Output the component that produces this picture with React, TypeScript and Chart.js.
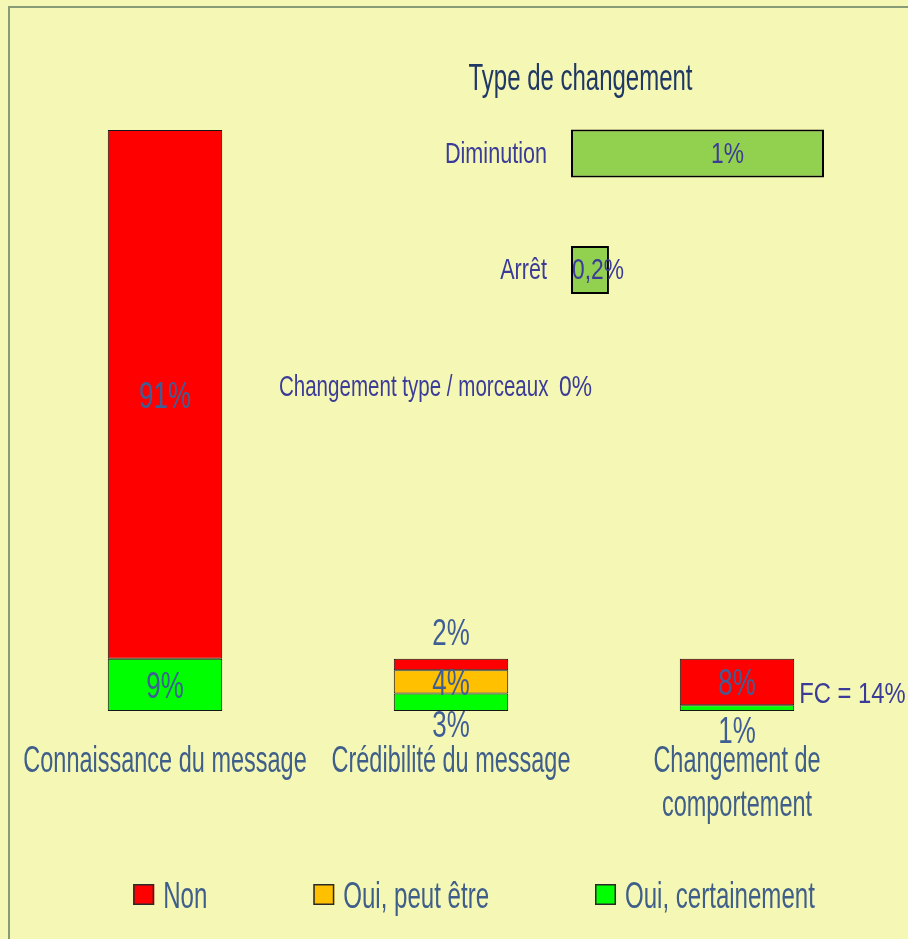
import React, { useEffect, useRef } from 'react';
import { Chart, registerables } from 'chart.js';

Chart.register(...registerables);

// ---------- data ----------
const categories: (string | string[])[] = [
  'Connaissance du message',
  'Crédibilité du message',
  ['Changement de', 'comportement'],
];
const seriesNames = ['Non', 'Oui, peut être', 'Oui, certainement'];
const nonValues: (number | null)[] = [91, 2, 8];
const peutEtreValues: (number | null)[] = [null, 4, null];
const certainementValues: (number | null)[] = [9, 3, 1];
const fcNote = 'FC = 14%';

const insetTitle = 'Type de changement';
const changeTypes = ['Diminution', 'Arrêt', 'Changement type / morceaux'];
const changeValues = [1, 0.15, 0];
const changeLabels = ['1%', '0,2%', '0%'];

// ---------- styles ----------
const BG = '#F5F7B5';
const RED = '#FF0000';
const ORANGE = '#FFC000';
const GREEN = '#00FF00';
const INSET_GREEN = '#92D050';
const AXIS_TEXT = '#3F5F8A';
const DATA_TEXT = '#3F5E96';
const INSET_TEXT = '#3B3B98';
const TITLE_TEXT = '#1F3864';
const FONT = "'Liberation Sans', Arial, sans-serif";

function measure(ctx: CanvasRenderingContext2D, text: string, size: number, k: number) {
  ctx.save();
  ctx.font = `${size}px ${FONT}`;
  const w = ctx.measureText(text).width * k;
  ctx.restore();
  return w;
}

function drawText(
  ctx: CanvasRenderingContext2D,
  text: string,
  x: number,
  y: number,
  size: number,
  color: string,
  align: 'left' | 'center' | 'right',
  k: number
) {
  ctx.save();
  ctx.font = `${size}px ${FONT}`;
  ctx.fillStyle = color;
  ctx.textBaseline = 'alphabetic';
  ctx.textAlign = 'left';
  const w = ctx.measureText(text).width * k;
  const left = align === 'center' ? x - w / 2 : align === 'right' ? x - w : x;
  ctx.translate(left, y);
  ctx.scale(k, 1);
  ctx.fillText(text, 0, 0);
  ctx.restore();
  return w;
}

// label placement overrides for small segments: key = datasetIndex-index
const PLACEMENT: Record<string, { mode: 'above' | 'below'; dy: number }> = {
  '2-1': { mode: 'above', dy: -13.7 },
  '0-1': { mode: 'below', dy: 26 },
  '0-2': { mode: 'below', dy: 32 },
};

const mainLabelsPlugin = {
  id: 'mainLabels',
  afterDatasetsDraw(chart: any) {
    const ctx: CanvasRenderingContext2D = chart.ctx;
    const area = chart.chartArea;
    // data labels
    chart.data.datasets.forEach((ds: any, di: number) => {
      const meta = chart.getDatasetMeta(di);
      meta.data.forEach((el: any, i: number) => {
        const v = ds.data[i];
        if (v === null || v === undefined) return;
        const { x, y, base } = el.getProps(['x', 'y', 'base'], true);
        const p = PLACEMENT[`${di}-${i}`];
        let by: number;
        if (p && p.mode === 'above') by = Math.min(y, base) + p.dy;
        else if (p && p.mode === 'below') by = Math.max(y, base) + p.dy;
        else by = (y + base) / 2 + 13.5;
        drawText(ctx, `${v}%`, x, by, 37, DATA_TEXT, 'center', 0.7);
      });
    });
    // FC note next to last stack
    const lastIdx = categories.length - 1;
    const topEl: any = chart.getDatasetMeta(chart.data.datasets.length - 1).data[lastIdx];
    if (topEl) {
      const { x, y, width } = topEl.getProps(['x', 'y', 'width'], true);
      drawText(ctx, fcNote, x + width / 2 + 5, (y + area.bottom) / 2 + 18, 29, INSET_TEXT, 'left', 0.82);
    }
    // x axis labels
    const xs = chart.scales.x;
    categories.forEach((c, i) => {
      const lines = Array.isArray(c) ? c : [c];
      const cx = xs.getPixelForValue(i);
      lines.forEach((ln, j) => {
        drawText(ctx, ln, cx, area.bottom + 60.7 + j * 44, 37, AXIS_TEXT, 'center', 0.635);
      });
    });
    // legend
    const colors = [RED, ORANGE, GREEN];
    const sq = 21;
    const gapText = 9;
    const gapItem = 106;
    const lk = 0.65;
    const widths = seriesNames.map((n) => sq + gapText + measure(ctx, n, 37, lk));
    const total = widths.reduce((a, b) => a + b, 0) + gapItem * (seriesNames.length - 1);
    let lx = 474 - total / 2;
    const sqTop = area.bottom + 173;
    seriesNames.forEach((n, i) => {
      ctx.save();
      ctx.fillStyle = colors[i];
      ctx.fillRect(lx, sqTop, sq, sq);
      ctx.strokeStyle = '#2a2a2a';
      ctx.lineWidth = 1.5;
      ctx.strokeRect(lx + 0.75, sqTop + 0.75, sq - 1.5, sq - 1.5);
      ctx.restore();
      drawText(ctx, n, lx + sq + gapText, sqTop + 23.7, 37, AXIS_TEXT, 'left', lk);
      lx += widths[i] + gapItem;
    });
  },
};

const INSET_PLACE = [
  { anchor: 'center', dx: 30 },
  { anchor: 'start', dx: 1 },
  { anchor: 'start', dx: -12 },
];
const INSET_LABEL_K = [0.72, 0.72, 0.685];

const insetLabelsPlugin = {
  id: 'insetLabels',
  afterDatasetsDraw(chart: any) {
    const ctx: CanvasRenderingContext2D = chart.ctx;
    const area = chart.chartArea;
    drawText(ctx, insetTitle, chart.width / 2, area.top - 5.25, 37, TITLE_TEXT, 'center', 0.648);
    const ys = chart.scales.y;
    changeTypes.forEach((t, i) => {
      const right = area.left - (i === changeTypes.length - 1 ? 22.5 : 24);
      drawText(ctx, t, right, ys.getPixelForValue(i) + 9, 30, INSET_TEXT, 'right', INSET_LABEL_K[i] ?? 0.72);
    });
    const meta = chart.getDatasetMeta(0);
    meta.data.forEach((el: any, i: number) => {
      const { x, y, base } = el.getProps(['x', 'y', 'base'], true);
      const p = INSET_PLACE[i] || { anchor: 'start', dx: 1 };
      if (p.anchor === 'center') {
        drawText(ctx, changeLabels[i], (x + base) / 2 + p.dx, y + 9, 30, INSET_TEXT, 'center', 0.76);
      } else {
        drawText(ctx, changeLabels[i], base + p.dx, y + 9, 30, INSET_TEXT, 'left', 0.76);
      }
    });
  },
};

export default function App() {
  const mainRef = useRef<HTMLCanvasElement>(null);
  const insetRef = useRef<HTMLCanvasElement>(null);

  useEffect(() => {
    const common = { borderColor: '#151515', borderWidth: 1, borderSkipped: false };
    const main = new Chart(mainRef.current as HTMLCanvasElement, {
      type: 'bar',
      data: {
        labels: categories as any,
        datasets: [
          { label: seriesNames[2], data: certainementValues, backgroundColor: GREEN, ...common } as any,
          { label: seriesNames[1], data: peutEtreValues, backgroundColor: ORANGE, ...common } as any,
          { label: seriesNames[0], data: nonValues, backgroundColor: RED, ...common } as any,
        ],
      },
      options: {
        responsive: false,
        animation: false,
        devicePixelRatio: 1,
        layout: { padding: { left: 22, right: 28, top: 130, bottom: 228 } },
        plugins: { legend: { display: false }, tooltip: { enabled: false } },
        datasets: { bar: { barPercentage: 0.4, categoryPercentage: 1 } },
        scales: {
          x: { display: false, stacked: true, offset: true },
          y: { display: false, stacked: true, min: 0, max: 100 },
        },
      } as any,
      plugins: [mainLabelsPlugin],
    });

    const inset = new Chart(insetRef.current as HTMLCanvasElement, {
      type: 'bar',
      data: {
        labels: changeTypes,
        datasets: [
          {
            label: insetTitle,
            data: changeValues,
            backgroundColor: INSET_GREEN,
            borderColor: '#000000',
            borderWidth: 2,
            borderSkipped: false,
            barPercentage: 0.41,
            categoryPercentage: 1,
          } as any,
        ],
      },
      options: {
        indexAxis: 'y',
        responsive: false,
        animation: false,
        devicePixelRatio: 1,
        layout: { padding: { left: 311, right: 77, top: 65.25, bottom: 25.25 } },
        plugins: { legend: { display: false }, tooltip: { enabled: false } },
        scales: {
          x: { display: false, min: 0, max: 1 },
          y: { display: false },
        },
      } as any,
      plugins: [insetLabelsPlugin],
    });

    return () => {
      main.destroy();
      inset.destroy();
    };
  }, []);

  return (
    <div
      style={{
        position: 'fixed',
        left: 0,
        top: 0,
        width: 908,
        height: 939,
        background: BG,
        overflow: 'hidden',
      }}
    >
      <div
        style={{
          position: 'absolute',
          left: 8,
          top: 6,
          width: 960,
          height: 990,
          border: '2px solid #879C76',
          boxSizing: 'border-box',
        }}
      />
      <canvas
        ref={mainRef}
        width={908}
        height={939}
        style={{ position: 'absolute', left: 0, top: 0 }}
      />
      <canvas
        ref={insetRef}
        width={641}
        height={440}
        style={{ position: 'absolute', left: 260, top: 30 }}
      />
    </div>
  );
}
